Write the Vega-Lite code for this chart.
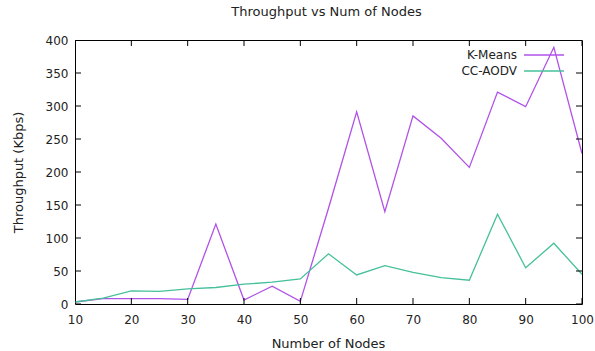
{
  "$schema": "https://vega.github.io/schema/vega-lite/v6.json",
  "width": 507,
  "height": 264,
  "autosize": {"type": "none"},
  "padding": {"left": 75, "top": 40, "right": 13, "bottom": 47},
  "background": "white",
  "config": {
    "font": "DejaVu Sans",
    "view": {"stroke": "#000", "strokeWidth": 1},
    "axis": {"domain": false, "ticks": false, "grid": false, "labelFont": "DejaVu Sans", "titleFont": "DejaVu Sans", "labelFontSize": 12, "titleFontSize": 13, "labelColor": "#222", "titleColor": "#222", "titleFontWeight": "normal", "labelFlush": false}
  },
  "title": {"text": "Throughput vs Num of Nodes", "font": "DejaVu Sans", "fontSize": 13, "fontWeight": "normal", "color": "#222", "offset": 15, "dx": -2},
  "datasets": {
    "series": [
      {"nodes": 10, "tp": 3, "algo": "K-Means"},
      {"nodes": 15, "tp": 8, "algo": "K-Means"},
      {"nodes": 20, "tp": 8, "algo": "K-Means"},
      {"nodes": 25, "tp": 8, "algo": "K-Means"},
      {"nodes": 30, "tp": 7, "algo": "K-Means"},
      {"nodes": 35, "tp": 121, "algo": "K-Means"},
      {"nodes": 40, "tp": 6, "algo": "K-Means"},
      {"nodes": 45, "tp": 27, "algo": "K-Means"},
      {"nodes": 50, "tp": 4, "algo": "K-Means"},
      {"nodes": 55, "tp": 145, "algo": "K-Means"},
      {"nodes": 60, "tp": 291, "algo": "K-Means"},
      {"nodes": 65, "tp": 140, "algo": "K-Means"},
      {"nodes": 70, "tp": 285, "algo": "K-Means"},
      {"nodes": 75, "tp": 251, "algo": "K-Means"},
      {"nodes": 80, "tp": 207, "algo": "K-Means"},
      {"nodes": 85, "tp": 321, "algo": "K-Means"},
      {"nodes": 90, "tp": 299, "algo": "K-Means"},
      {"nodes": 95, "tp": 389, "algo": "K-Means"},
      {"nodes": 100, "tp": 228, "algo": "K-Means"},
      {"nodes": 10, "tp": 3, "algo": "CC-AODV"},
      {"nodes": 15, "tp": 9, "algo": "CC-AODV"},
      {"nodes": 20, "tp": 20, "algo": "CC-AODV"},
      {"nodes": 25, "tp": 19, "algo": "CC-AODV"},
      {"nodes": 30, "tp": 23, "algo": "CC-AODV"},
      {"nodes": 35, "tp": 25, "algo": "CC-AODV"},
      {"nodes": 40, "tp": 30, "algo": "CC-AODV"},
      {"nodes": 45, "tp": 33, "algo": "CC-AODV"},
      {"nodes": 50, "tp": 38, "algo": "CC-AODV"},
      {"nodes": 55, "tp": 76, "algo": "CC-AODV"},
      {"nodes": 60, "tp": 44, "algo": "CC-AODV"},
      {"nodes": 65, "tp": 58, "algo": "CC-AODV"},
      {"nodes": 70, "tp": 48, "algo": "CC-AODV"},
      {"nodes": 75, "tp": 40, "algo": "CC-AODV"},
      {"nodes": 80, "tp": 36, "algo": "CC-AODV"},
      {"nodes": 85, "tp": 136, "algo": "CC-AODV"},
      {"nodes": 90, "tp": 55, "algo": "CC-AODV"},
      {"nodes": 95, "tp": 92, "algo": "CC-AODV"},
      {"nodes": 100, "tp": 45, "algo": "CC-AODV"}
    ],
    "xticks": [{"v": 10}, {"v": 20}, {"v": 30}, {"v": 40}, {"v": 50}, {"v": 60}, {"v": 70}, {"v": 80}, {"v": 90}, {"v": 100}],
    "yticks": [{"v": 0}, {"v": 50}, {"v": 100}, {"v": 150}, {"v": 200}, {"v": 250}, {"v": 300}, {"v": 350}, {"v": 400}]
  },
  "layer": [
    {
      "data": {"name": "series"},
      "mark": {"type": "line", "strokeWidth": 1.3, "clip": true},
      "encoding": {
        "x": {"field": "nodes", "type": "quantitative", "scale": {"domain": [10, 100], "nice": false, "zero": false},
              "axis": {"orient": "bottom", "values": [10,20,30,40,50,60,70,80,90,100], "title": "Number of Nodes", "labelPadding": 10, "titleX": 253, "titleY": 39, "titleBaseline": "middle"}},
        "y": {"field": "tp", "type": "quantitative", "scale": {"domain": [0, 400], "nice": false},
              "axis": {"orient": "left", "values": [0,50,100,150,200,250,300,350,400], "title": "Throughput (Kbps)", "labelPadding": 7, "titleX": -57, "titleY": 132, "titleAngle": -90, "titleBaseline": "middle", "titleAlign": "center"}},
        "color": {"field": "algo", "type": "nominal", "sort": ["K-Means", "CC-AODV"],
                  "scale": {"domain": ["K-Means", "CC-AODV"], "range": ["#b052e8", "#45c09a"]},
                  "legend": {"title": null, "orient": "none", "legendX": 460, "legendY": 6, "padding": 0, "symbolType": "M-2.5,0H2.5", "symbolSize": 256, "symbolStrokeWidth": 1.5, "rowPadding": 1, "labelAlign": "right", "labelOffset": -36, "labelFontSize": 12, "labelFont": "DejaVu Sans", "labelColor": "#222"}}
      }
    },
    {
      "data": {"name": "xticks"},
      "mark": {"type": "tick", "orient": "vertical", "size": 12, "thickness": 1, "color": "#000", "opacity": 1, "clip": true},
      "encoding": {
        "x": {"field": "v", "type": "quantitative", "axis": null},
        "y": {"datum": 0, "type": "quantitative", "axis": null}
      }
    },
    {
      "data": {"name": "xticks"},
      "mark": {"type": "tick", "orient": "vertical", "size": 12, "thickness": 1, "color": "#000", "opacity": 1, "clip": true},
      "encoding": {
        "x": {"field": "v", "type": "quantitative", "axis": null},
        "y": {"datum": 400, "type": "quantitative", "axis": null}
      }
    },
    {
      "data": {"name": "yticks"},
      "mark": {"type": "tick", "orient": "horizontal", "size": 12, "thickness": 1, "color": "#000", "opacity": 1, "clip": true},
      "encoding": {
        "y": {"field": "v", "type": "quantitative", "axis": null},
        "x": {"datum": 10, "type": "quantitative", "axis": null}
      }
    },
    {
      "data": {"name": "yticks"},
      "mark": {"type": "tick", "orient": "horizontal", "size": 12, "thickness": 1, "color": "#000", "opacity": 1, "clip": true},
      "encoding": {
        "y": {"field": "v", "type": "quantitative", "axis": null},
        "x": {"datum": 100, "type": "quantitative", "axis": null}
      }
    }
  ],
  "resolve": {"axis": {"x": "independent", "y": "independent"}}
}
